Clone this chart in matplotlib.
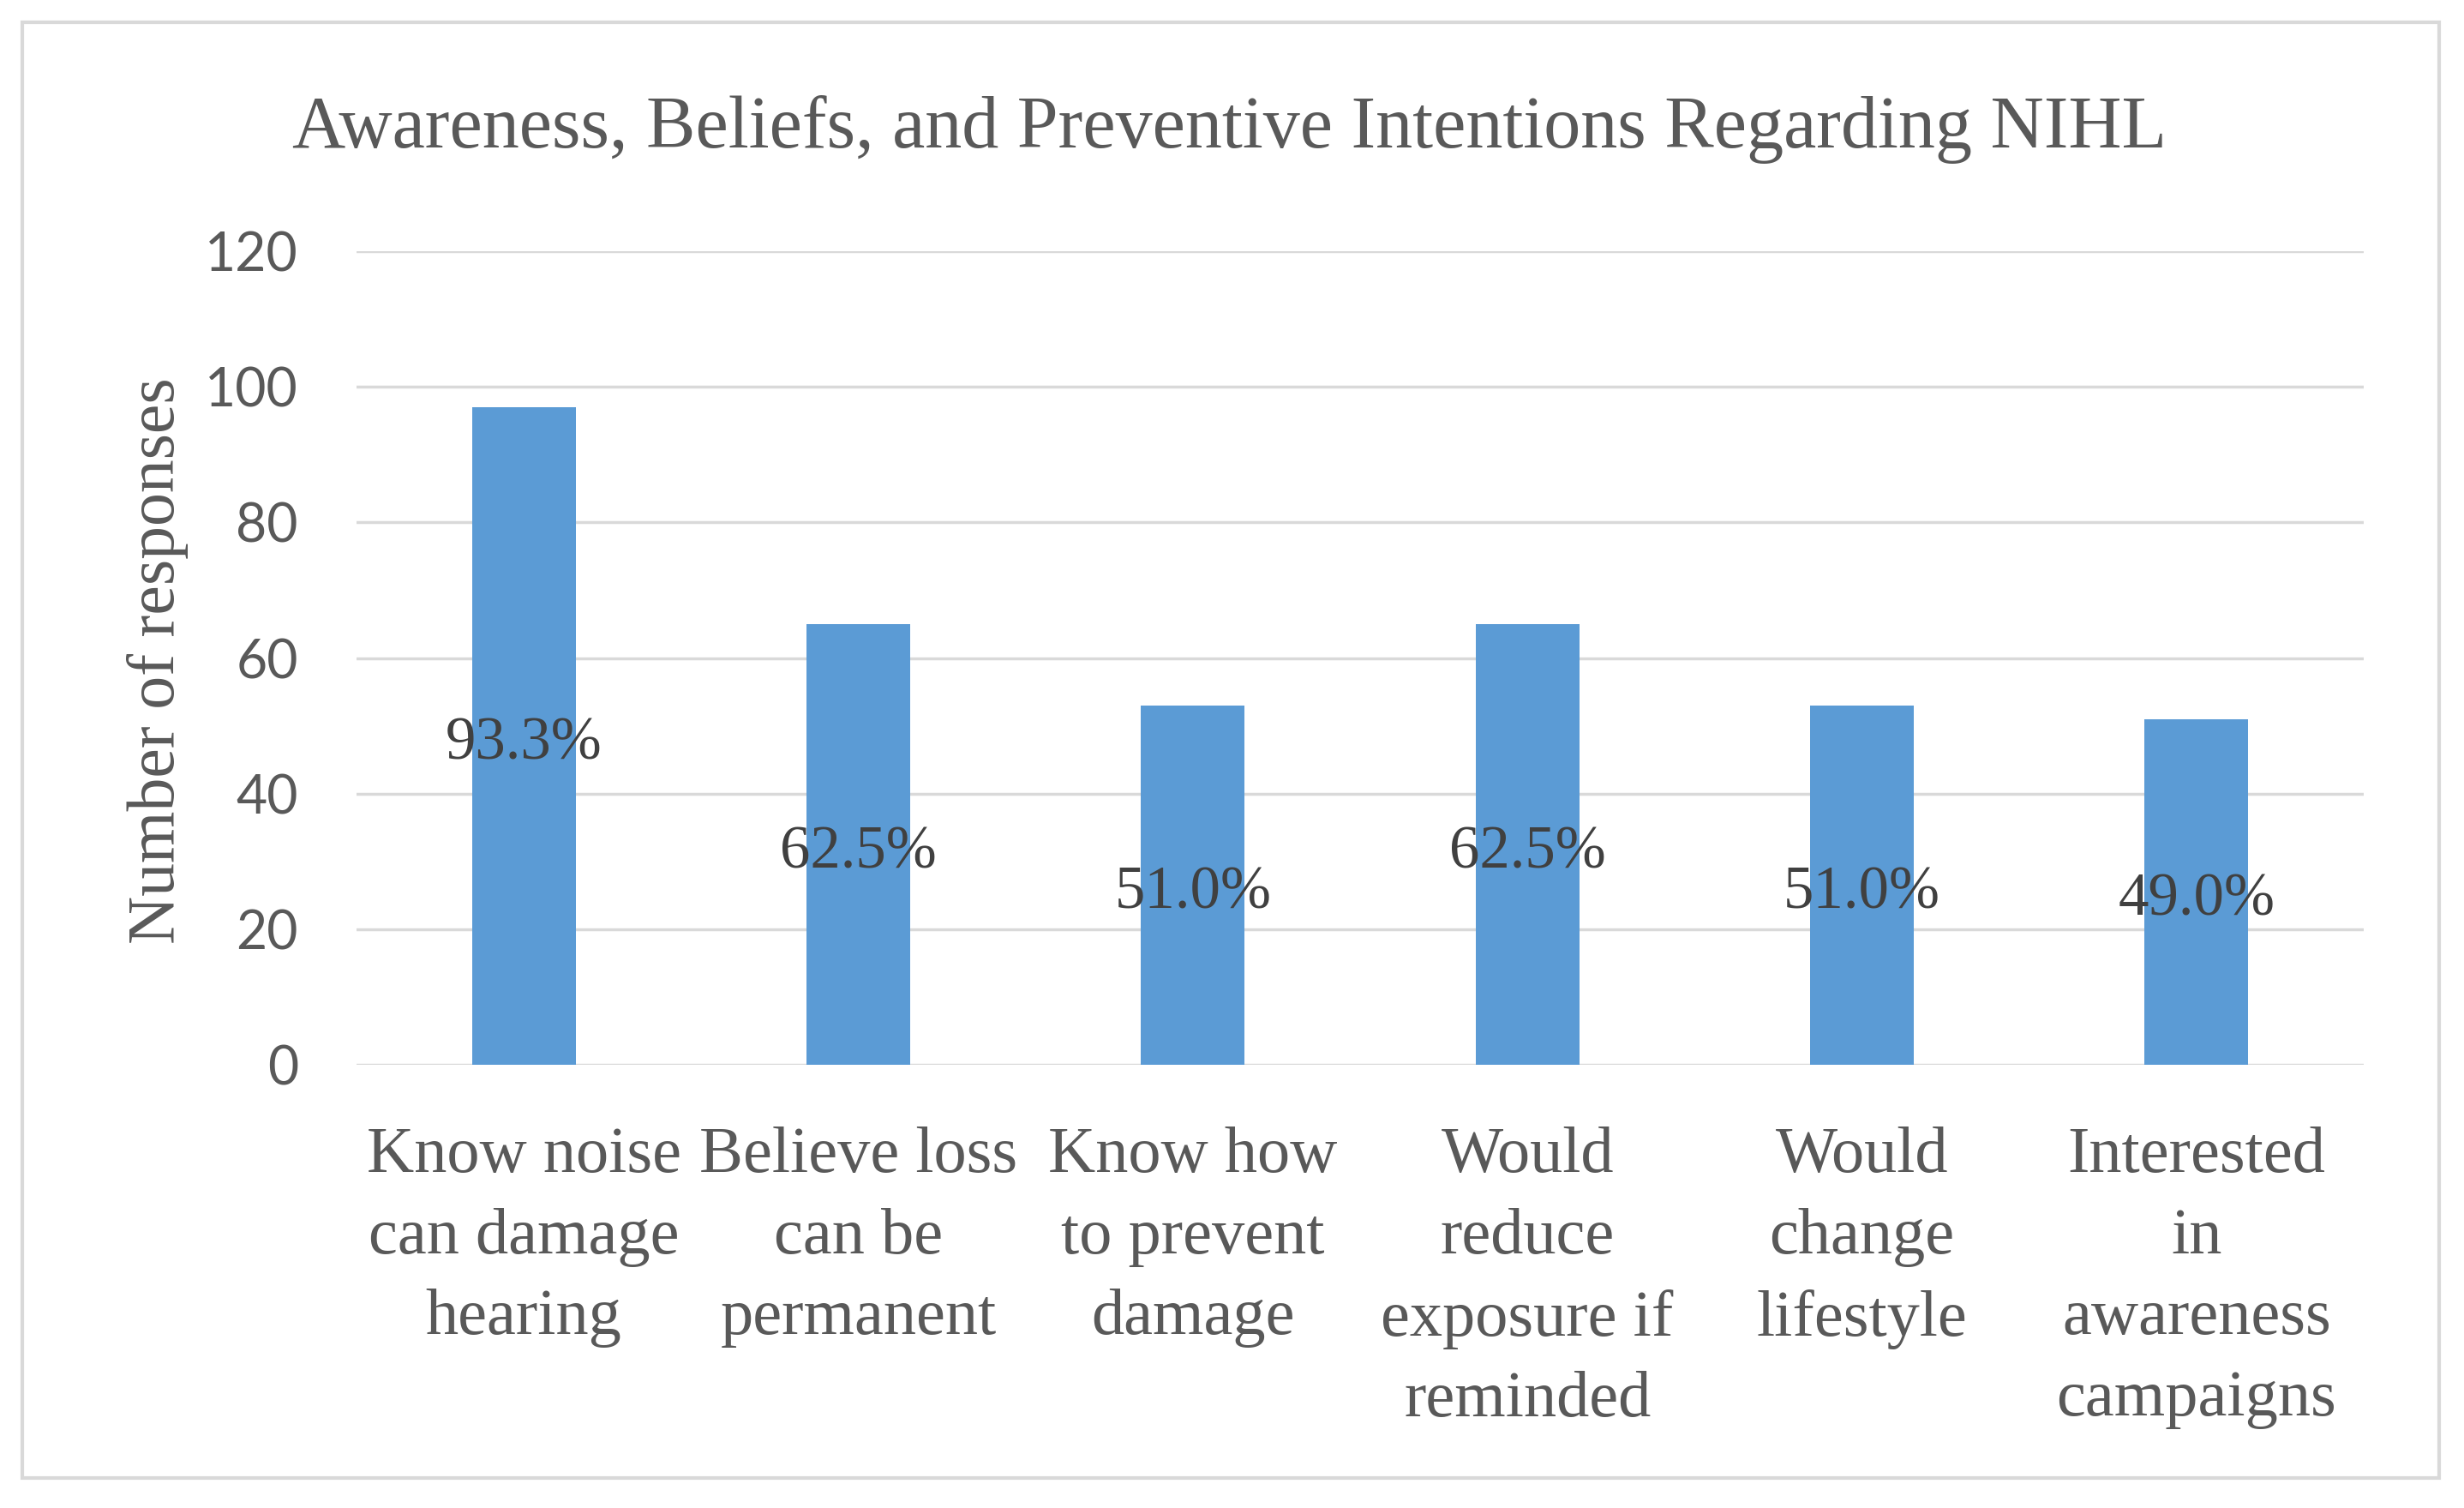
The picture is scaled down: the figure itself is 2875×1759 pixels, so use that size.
import matplotlib

matplotlib.use("Agg")
import matplotlib.pyplot as plt
from matplotlib.patches import Rectangle

# survey responses (n = 104)
categories = [
    "Know noise\ncan damage\nhearing",
    "Believe loss\ncan be\npermanent",
    "Know how\nto prevent\ndamage",
    "Would\nreduce\nexposure if\nreminded",
    "Would\nchange\nlifestyle",
    "Interested\nin\nawareness\ncampaigns",
]
responses = [97, 65, 53, 65, 53, 51]
pct_labels = ["93.3%", "62.5%", "51.0%", "62.5%", "51.0%", "49.0%"]
y_ticks = [0, 20, 40, 60, 80, 100, 120]

BAR = "#5B9BD5"
GRID = "#D9D9D9"
MUTED = "#595959"
INK = "#404040"
SERIF = ["Liberation Serif", "DejaVu Serif"]
SANS = ["Lato", "DejaVu Sans"]

fig = plt.figure(figsize=(28.75, 17.59), dpi=100, facecolor="white")
ax = fig.add_axes([0.1447, 0.2939, 0.8146, 0.5395])

x = range(len(categories))
bars = ax.bar(x, responses, width=0.31, color=BAR, zorder=2)
for b, lab in zip(bars, pct_labels):
    # centred in the bar, nudged a touch lower like the Excel original
    ax.annotate(lab, (b.get_x() + b.get_width() / 2, b.get_height() / 2),
                xytext=(0, -7), textcoords="offset points",
                ha="center", va="center", fontsize=51, color=INK,
                family=SERIF, zorder=3)

ax.set_xlim(-0.5, len(categories) - 0.5)
ax.set_ylim(0, 120)
ax.set_yticks(y_ticks)
ax.set_yticklabels([str(t) for t in y_ticks], family=SANS, fontsize=45,
                   color=MUTED)
ax.set_xticks(list(x))
ax.set_xticklabels(categories, family=SERIF, fontsize=55, color=MUTED,
                   linespacing=1.48, va="top")
ax.tick_params(axis="both", length=0)
ax.tick_params(axis="x", pad=52)
ax.tick_params(axis="y", pad=49)
ax.grid(axis="y", color=GRID, linewidth=2.5, zorder=1)
ax.set_axisbelow(True)
for s in ax.spines.values():
    s.set_visible(False)

fig.text(0.064, 0.562, "Number of responses", rotation=90, ha="center",
         va="center", family=SERIF, fontsize=56, color=MUTED)
fig.text(0.499, 0.914, "Awareness, Beliefs, and Preventive Intentions Regarding NIHL",
         ha="center", va="center", family=SERIF, fontsize=62, color=MUTED)

# light outer chart border
fig.add_artist(Rectangle((0.009, 0.02), 0.981, 0.965, transform=fig.transFigure,
                         fill=False, edgecolor=GRID, linewidth=3))

fig.savefig("out.png", dpi=100, facecolor="white")
